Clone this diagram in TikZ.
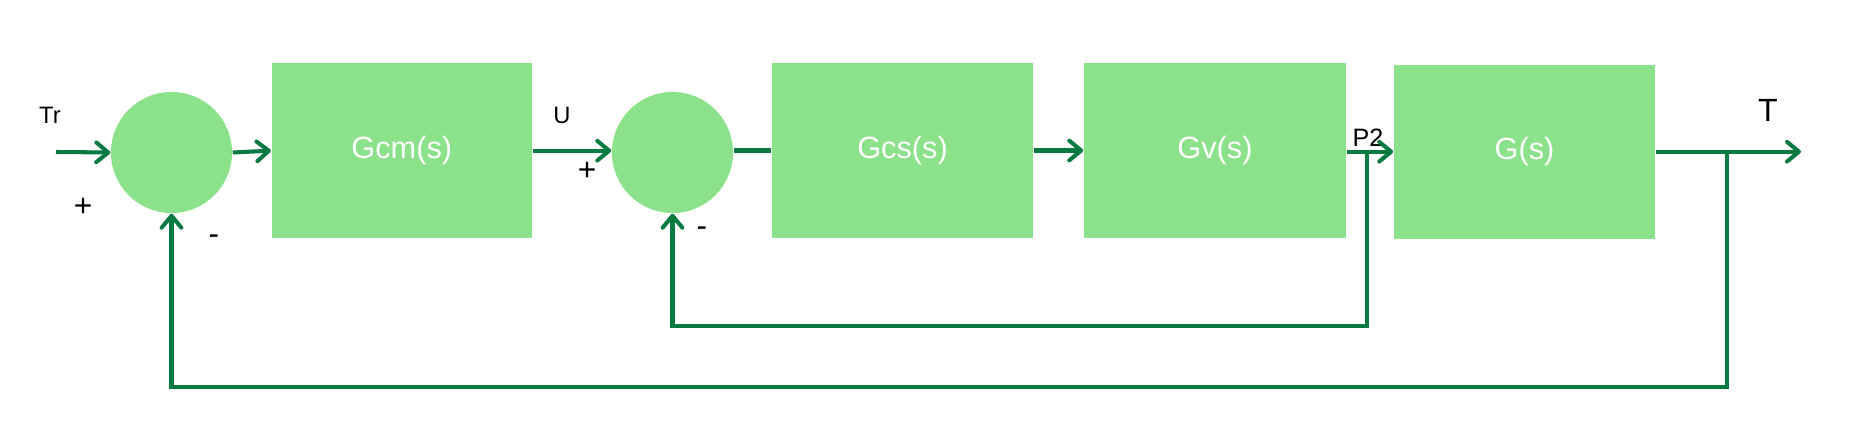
\documentclass[tikz,border=0pt]{standalone}
\usepackage{fontspec}
\setmainfont{Liberation Sans}
\usetikzlibrary{arrows.meta}
\definecolor{boxfill}{RGB}{139,226,139}
\definecolor{wire}{RGB}{6,122,64}
\begin{document}
\begin{tikzpicture}[x=0.01cm,y=-0.01cm,
  blk/.style={rectangle,fill=boxfill,draw=none,inner sep=0pt,text=white,
    font=\fontsize{8.74}{10}\selectfont},
  sumnode/.style={circle,fill=boxfill,draw=none,inner sep=0pt,minimum size=1.21cm},
  lbl/.style={inner sep=0pt,text=black,font=\fontsize{6.75}{8}\selectfont},
  sgn/.style={inner sep=0pt,text=black,font=\fontsize{9}{10}\selectfont},
  wireline/.style={draw=wire,line width=1.15pt},
  arr/.style={wireline,-{Straight Barb[length=3.4pt,width=5.6pt,line cap=round,line join=round]}}
]
\useasboundingbox (0,0) rectangle (1856,425);
% summing junctions
\node[sumnode] (c1) at (171.5,152.5) {};
\node[sumnode] (c2) at (672.5,152.5) {};
% blocks
\node[blk,minimum width=2.603cm,minimum height=1.747cm] (gcm) at (401.8,150.7) {Gcm(s)};
\node[blk,minimum width=2.61cm,minimum height=1.75cm] (gcs) at (902.5,150.5) {Gcs(s)};
\node[blk,minimum width=2.62cm,minimum height=1.75cm] (gv) at (1215,150.5) {Gv(s)};
\node[blk,minimum width=2.61cm,minimum height=1.74cm] (g) at (1524.5,152) {G(s)};
% labels
\node[lbl] (trl) at (50,115.5) {Tr};
\node[lbl] (ul) at (562,115.5) {U};
\node[lbl,font=\fontsize{7.15}{8}\selectfont] (p2l) at (1368,138) {P2};
\node[lbl,font=\fontsize{9.14}{10}\selectfont] (tl) at (1768,110) {T};
\node[sgn] (p1) at (83,207) {+};
\node[sgn] (m1) at (214,240) {-};
\node[sgn] (p2) at (587,171) {+};
\node[sgn] (m2) at (702,232) {-};
% coordinates
\coordinate (in) at (56,152);
\coordinate (out) at (1801,151.7);
\coordinate (tapa) at (1367,151.7);
\coordinate (tapb) at (1727,151.7);
\coordinate (ba) at (1367,326);
\coordinate (bal) at (672.5,326);
\coordinate (bb) at (1727,387);
\coordinate (bbl) at (171.5,387);
% forward path
\draw[arr] (in) -- (c1.west);
\draw[arr] (c1.east) -- (gcm.west);
\draw[arr] (gcm.east) -- (gcm.east -| c2.west);
\draw[wireline] (gcs.west -| c2.east) -- (gcs.west);
\draw[arr] (gcs.east) -- (gv.west);
\draw[arr] (gv.east |- tapa) -- (g.west |- tapa);
\draw[arr] (g.east |- out) -- (out);
% feedback paths
\draw[arr] (tapa) -- (ba) -- (bal) -- (c2.south);
\draw[arr] (tapb) -- (bb) -- (bbl) -- (c1.south);
\end{tikzpicture}
\end{document}
